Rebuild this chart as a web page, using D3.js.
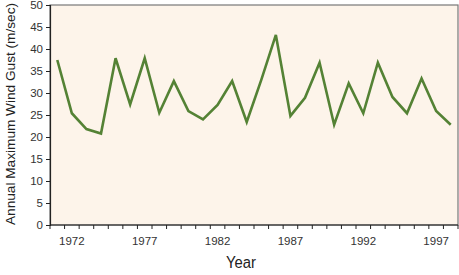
<!DOCTYPE html>
<html>
<head>
<meta charset="utf-8">
<script src="https://cdn.jsdelivr.net/npm/d3@7"></script>
<style>
  body { margin: 0; background: #fff; }
  text { font-family: "Liberation Sans", Arial, sans-serif; }
</style>
</head>
<body>
<script>
// chart size and margins
const DIMS = { width: 459, height: 275, left: 50, right: 1, top: 5, bottom: 50 };

// data
const years = d3.range(1971, 1999);
const gusts = [37.5, 25.4, 21.8, 20.8, 37.9, 27.4, 37.9, 25.5, 32.7, 25.9,
               24.0, 27.3, 32.7, 23.4, 33.0, 43.2, 24.8, 28.9, 36.9, 22.8,
               32.2, 25.4, 36.9, 29.1, 25.4, 33.3, 25.9, 22.8];
const yTicks = d3.range(0, 51, 5);
const labelYears = [1972, 1977, 1982, 1987, 1992, 1997];

const innerW = DIMS.width - DIMS.left - DIMS.right;
const innerH = DIMS.height - DIMS.top - DIMS.bottom;

const svg = d3.select('body').append('svg')
    .attr('width', DIMS.width)
    .attr('height', DIMS.height);

const canvas = svg.append('g')
    .attr('transform', `translate(${DIMS.left},${DIMS.top})`);

const xScale = d3.scaleBand(years, [0, innerW]);
const yScale = d3.scaleLinear([0, 50], [innerH, 0]);

// plot background + frame
canvas.append('rect')
    .attr('width', innerW)
    .attr('height', innerH)
    .attr('fill', '#fdf4ea')
    .attr('stroke', '#777')
    .attr('stroke-width', 1.2);

// y axis
const yAxis = d3.axisLeft(yScale).tickValues(yTicks).tickSize(4).tickPadding(3);
canvas.append('g')
    .call(yAxis)
    .call(g => g.select('.domain').attr('stroke', '#222').attr('stroke-width', 1.2))
    .call(g => g.selectAll('.tick line').attr('stroke', '#222'))
    .call(g => g.selectAll('.tick text').attr('font-size', 11.5).attr('fill', '#333')
        .attr('font-family', '"Liberation Sans", Arial, sans-serif'));

// x axis: ticks between categories, labels every 5 years
const xg = canvas.append('g').attr('transform', `translate(0,${innerH})`);
xg.append('line')
    .attr('x2', innerW)
    .attr('stroke', '#222')
    .attr('stroke-width', 1.2);
xg.selectAll('line.tk')
    .data(years.concat([1999]))
    .join('line')
    .attr('class', 'tk')
    .attr('x1', d => d === 1999 ? innerW : xScale(d))
    .attr('x2', d => d === 1999 ? innerW : xScale(d))
    .attr('y2', 4)
    .attr('stroke', '#222');
xg.selectAll('text')
    .data(labelYears)
    .join('text')
    .attr('x', d => xScale(d) + xScale.bandwidth() / 2)
    .attr('y', 20)
    .attr('text-anchor', 'middle')
    .attr('font-size', 11.5)
    .attr('fill', '#333')
    .text(d => d);

// the line
const line = d3.line()
    .x((d, i) => xScale(years[i]) + xScale.bandwidth() / 2)
    .y(d => yScale(d));
canvas.append('path')
    .datum(gusts)
    .attr('d', line)
    .attr('fill', 'none')
    .attr('stroke', '#548235')
    .attr('stroke-width', 2.6)
    .attr('stroke-linejoin', 'miter');

// axis titles
svg.append('text')
    .attr('x', 241)
    .attr('y', 268)
    .attr('text-anchor', 'middle')
    .attr('font-size', 16)
    .attr('fill', '#222')
    .attr('textLength', 30)
    .attr('lengthAdjust', 'spacingAndGlyphs')
    .text('Year');

svg.append('text')
    .attr('transform', `translate(15,${DIMS.top + 109}) rotate(-90)`)
    .attr('text-anchor', 'middle')
    .attr('font-size', 13.5)
    .attr('fill', '#222')
    .attr('textLength', 222)
    .attr('lengthAdjust', 'spacingAndGlyphs')
    .text('Annual Maximum Wind Gust (m/sec)');
</script>
</body>
</html>
